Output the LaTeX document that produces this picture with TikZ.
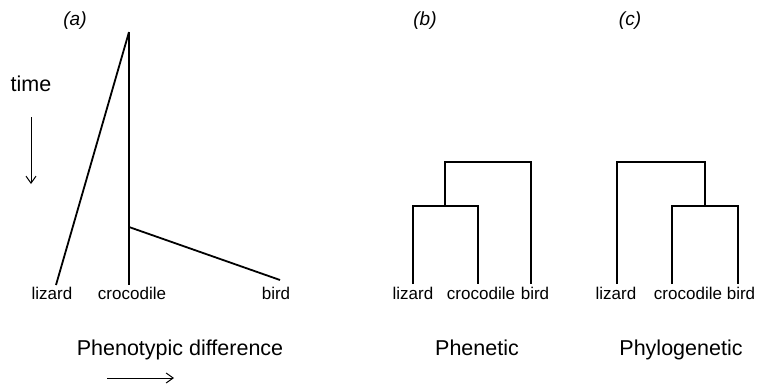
\documentclass[tikz,border=0pt]{standalone}
\usepackage{fontspec}
\setmainfont{Liberation Sans}
\usetikzlibrary{arrows.meta}
\tikzset{
  branch/.style={line width=1.8pt},
  leaflabel/.style={font=\fontsize{17}{20}\selectfont, inner sep=0pt, anchor=base},
  caption/.style={font=\fontsize{21.5}{24}\selectfont, inner sep=0pt, anchor=base},
  panel/.style={font=\fontsize{19}{22}\selectfont\itshape, inner sep=0pt, anchor=base},
  axis/.style={line width=1pt, -{Straight Barb[length=7pt,width=10pt]}}
}
\begin{document}
\begin{tikzpicture}[x=1pt,y=-1pt]
\useasboundingbox (0,0) rectangle (758,388);
% (a) change through time
\node[panel] (pa) at (75,25) {(a)};
\node[caption] (time) at (31,91) {time};
\coordinate (t0) at (31,117);
\coordinate (t1) at (31,184);
\draw[axis] (t0) -- (t1);
\coordinate (aroot) at (129,32);
\coordinate (asplit) at (129,227);
\coordinate (aliz) at (56,285);
\coordinate (acroc) at (129,285);
\coordinate (abird) at (280,280);
\draw[branch] (aroot) -- (aliz);
\draw[branch] (aroot) -- (acroc);
\draw[branch] (asplit) -- (abird);
\node[leaflabel] (aliztxt) at (52,299) {lizard};
\node[leaflabel] (acroctxt) at (132,299) {crocodile};
\node[leaflabel] (abirdtxt) at (276,299) {bird};
\node[caption] (phen) at (180,355) {Phenotypic difference};
\coordinate (d0) at (107,378);
\coordinate (d1) at (174,378);
\draw[axis] (d0) -- (d1);
% (b) phenetic tree
\node[panel] (pb) at (425,25) {(b)};
\coordinate (broot) at (445,162);
\coordinate (bsplit) at (445,206);
\draw[branch] (413,284) |- (bsplit) -| (478,284);
\draw[branch] (broot |- bsplit) -- (broot) -| (531,284);
\node[leaflabel] (bliztxt) at (413,299) {lizard};
\node[leaflabel] (bcroctxt) at (481,299) {crocodile};
\node[leaflabel] (bbirdtxt) at (535,299) {bird};
\node[caption] (phenetic) at (477,355) {Phenetic};
% (c) phylogenetic tree
\node[panel] (pc) at (630,25) {(c)};
\coordinate (croot) at (705,162);
\coordinate (csplit) at (705,206);
\draw[branch] (617,284) |- (croot) -- (csplit);
\draw[branch] (672,284) |- (csplit) -| (738,284);
\node[leaflabel] (cliztxt) at (616,299) {lizard};
\node[leaflabel] (ccroctxt) at (688,299) {crocodile};
\node[leaflabel] (cbirdtxt) at (741,299) {bird};
\node[caption] (phylo) at (681,355) {Phylogenetic};
\end{tikzpicture}
\end{document}
